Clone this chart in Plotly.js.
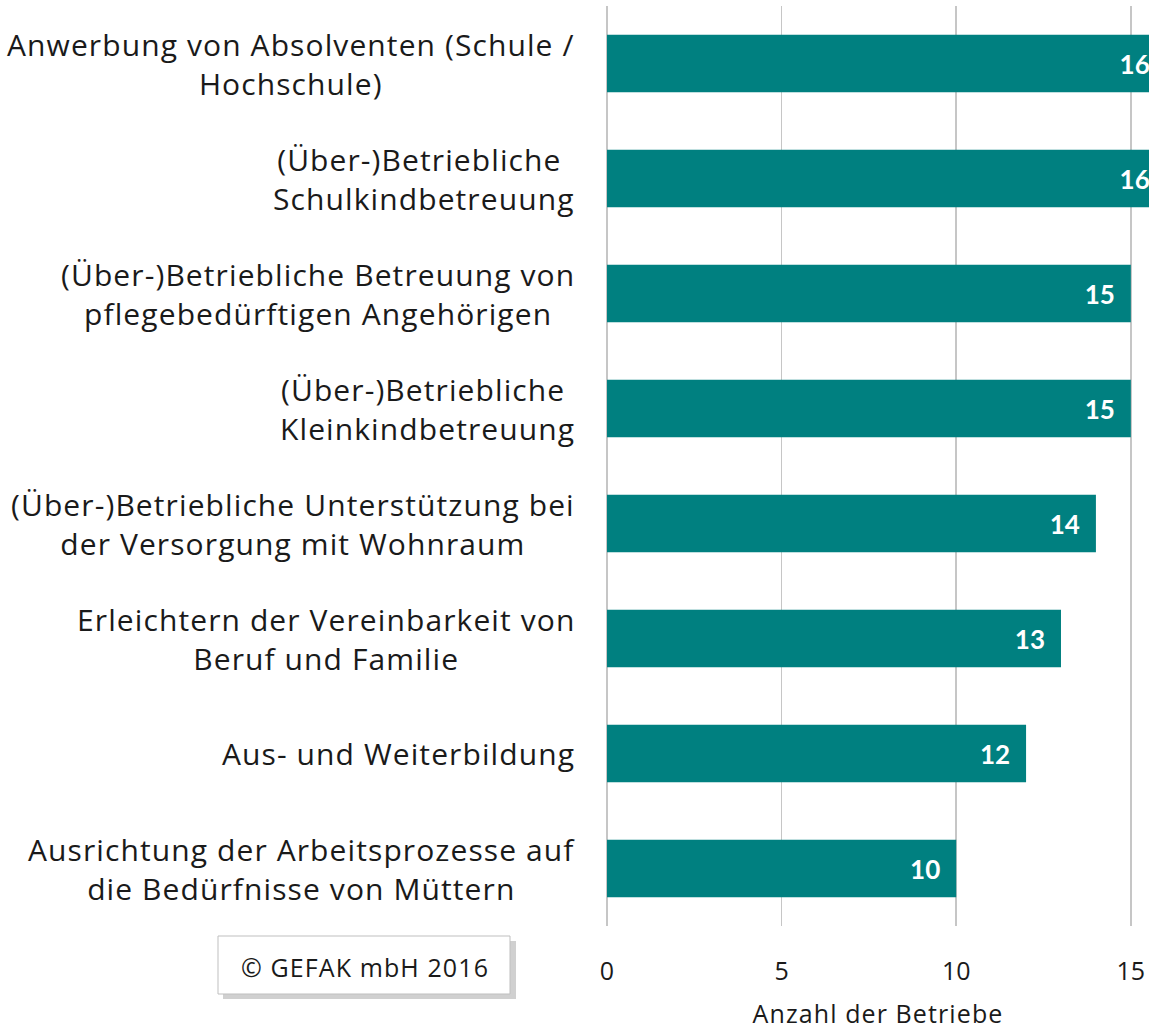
<!DOCTYPE html>
<html>
<head>
<meta charset="utf-8">
<script src="https://cdn.plot.ly/plotly-3.0.1.min.js"></script>
<style>
html,body{margin:0;padding:0;background:#fff;}
.annotation-text, .xtitle { letter-spacing: 1.1px; }
</style>
</head>
<body>
<div id="chart" style="width:1149px;height:1030px;"></div>
<script>
const categories = [
  "Anwerbung von Absolventen (Schule /<br>Hochschule)",
  "(Über-)Betriebliche <br>Schulkindbetreuung",
  "(Über-)Betriebliche Betreuung von<br>pflegebedürftigen Angehörigen",
  "(Über-)Betriebliche <br>Kleinkindbetreuung",
  "(Über-)Betriebliche Unterstützung bei<br>der Versorgung mit Wohnraum",
  "Erleichtern der Vereinbarkeit von<br>Beruf und Familie",
  "Aus- und Weiterbildung",
  "Ausrichtung der Arbeitsprozesse auf<br>die Bedürfnisse von Müttern"
];
const values = [16, 16, 15, 15, 14, 13, 12, 10];
const tickValues = [0, 5, 10, 15];
const axisTitle = "Anzahl der Betriebe";
const copyrightText = "© GEFAK mbH 2016";

const FONT = "'Open Sans', 'Noto Sans', Lato, sans-serif";
const NUMFONT = "Lato, 'Open Sans', sans-serif";
const TEAL = "#008080";
const GRID = "#c6c6c6";

const trace = {
  type: "bar",
  orientation: "h",
  y: categories,
  x: values,
  width: 0.5,
  marker: {color: TEAL},
  texttemplate: "%{x}\u2002",
  textposition: "inside",
  insidetextanchor: "end",
  insidetextfont: {family: NUMFONT, size: 26, color: "#ffffff", weight: "bold"},
  hoverinfo: "none",
  cliponaxis: true
};

const labelAnnotations = categories.map(c => ({
  xref: "paper", yref: "y",
  x: 0, y: c,
  xanchor: "right", yanchor: "middle",
  xshift: -30,
  align: "center",
  text: c,
  showarrow: false,
  font: {family: FONT, size: 30, color: "#1a1a1a"}
}));

// plot area: x from 607 to 1149 (542px), y from 6 to 926 (920px)
const px = p => (p - 607) / 542;
const py = p => (926 - p) / 920;

const layout = {
  width: 1149, height: 1030,
  margin: {l: 607, r: 0, t: 6, b: 104, pad: 0},
  paper_bgcolor: "#ffffff",
  plot_bgcolor: "#ffffff",
  showlegend: false,
  bargap: 0.5,
  xaxis: {
    range: [0, 15.52],
    tickvals: tickValues,
    ticktext: tickValues.map(String),
    showgrid: true, gridcolor: GRID, gridwidth: 1.5,
    zeroline: true, zerolinecolor: GRID, zerolinewidth: 1.5,
    showline: false,
    ticks: "outside", ticklen: 23, tickcolor: "rgba(0,0,0,0)",
    tickfont: {family: FONT, size: 25, color: "#1a1a1a"},
    title: {text: axisTitle, font: {family: FONT, size: 25, color: "#1a1a1a"}, standoff: 24},
    fixedrange: true
  },
  yaxis: {
    autorange: "reversed",
    showticklabels: false,
    showgrid: false, zeroline: false, showline: false,
    ticks: "",
    fixedrange: true
  },
  shapes: [
    {type: "rect", xref: "paper", yref: "paper",
     x0: px(223), x1: px(516), y0: py(999), y1: py(941),
     fillcolor: "rgba(150,150,150,0.45)", line: {width: 0}, layer: "above"},
    {type: "rect", xref: "paper", yref: "paper",
     x0: px(218), x1: px(510), y0: py(994), y1: py(936),
     fillcolor: "#ffffff", line: {color: "#bfbfbf", width: 1}, layer: "above"}
  ],
  annotations: labelAnnotations.concat([
    {xref: "paper", yref: "paper", x: px(365), y: py(967),
     xanchor: "center", yanchor: "middle", showarrow: false,
     text: copyrightText,
     font: {family: FONT, size: 25, color: "#1a1a1a"}}
  ])
};

Plotly.newPlot("chart", [trace], layout, {displayModeBar: false, staticPlot: true});
</script>
</body>
</html>
